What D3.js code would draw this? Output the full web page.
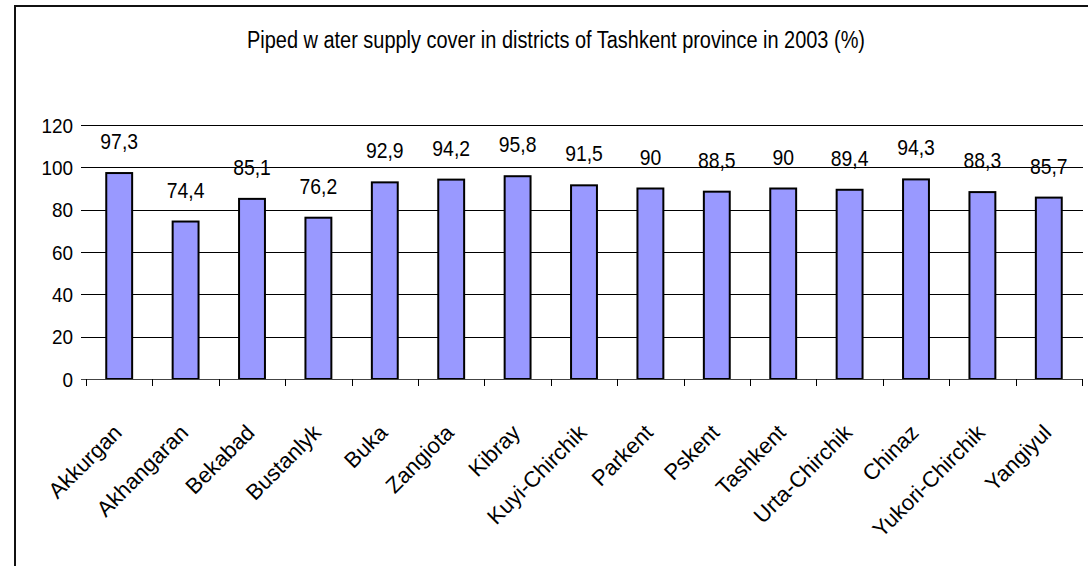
<!DOCTYPE html>
<html>
<head>
<meta charset="utf-8">
<script src="https://cdn.jsdelivr.net/npm/d3@7"></script>
<style>
  html, body { margin: 0; padding: 0; background: #fff; }
  svg { display: block; }
  text { font-family: "Liberation Sans", Arial, sans-serif; fill: #000; }
</style>
</head>
<body>
<svg id="chart" width="1088" height="566"></svg>
<script>
// District names and piped water supply coverage (%) for 2003
const categories = ["Akkurgan", "Akhangaran", "Bekabad", "Bustanlyk", "Buka", "Zangiota", "Kibray",
  "Kuyi-Chirchik", "Parkent", "Pskent", "Tashkent", "Urta-Chirchik", "Chinaz", "Yukori-Chirchik", "Yangiyul"];
const coverage = [97.3, 74.4, 85.1, 76.2, 92.9, 94.2, 95.8, 91.5, 90, 88.5, 90, 89.4, 94.3, 88.3, 85.7];
const yTicks = [0, 20, 40, 60, 80, 100, 120];
const titleText = "Piped w ater supply cover in districts of Tashkent province in 2003 (%)";

const svg = d3.select("#chart");

// narrow the glyphs horizontally to get the condensed look of the labels
function condense(sel, ratio) {
  sel.each(function () {
    const w = this.getComputedTextLength();
    d3.select(this).attr("textLength", w * ratio).attr("lengthAdjust", "spacingAndGlyphs");
  });
}

// chart area frame (left and top edges)
svg.append("path")
  .attr("d", "M15,566 V6 H1088")
  .attr("fill", "none").attr("stroke", "#111").attr("stroke-width", 2);

const x = d3.scaleBand().domain(categories).range([86, 1082]).paddingInner(0.61).paddingOuter(0.305);
const band = d3.scaleBand().domain(categories).range([86, 1082]);
const y = d3.scaleLinear().domain([0, 120]).range([379, 125]);

// horizontal gridlines with short ticks to the left
svg.append("g").selectAll("line").data(yTicks.filter(d => d > 0)).join("line")
  .attr("x1", 81).attr("x2", 1083)
  .attr("y1", d => Math.round(y(d)) + 0.5).attr("y2", d => Math.round(y(d)) + 0.5)
  .attr("stroke", "#000").attr("stroke-width", 1);

// value axis labels
svg.append("g").selectAll("text").data(yTicks).join("text")
  .attr("x", 73).attr("y", d => y(d) + 7.5)
  .attr("text-anchor", "end")
  .style("font-size", "21px")
  .text(d => d)
  .call(condense, 0.9);

// bars
svg.append("g").selectAll("rect").data(coverage).join("rect")
  .attr("x", (d, i) => x(categories[i]))
  .attr("width", x.bandwidth())
  .attr("y", d => y(d))
  .attr("height", d => y(0) - y(d))
  .attr("fill", "#9999FF")
  .attr("stroke", "#000").attr("stroke-width", 2);

// category axis line and tick marks at band boundaries
svg.append("line")
  .attr("x1", 81).attr("x2", 1083).attr("y1", Math.round(y(0)) + 0.5).attr("y2", Math.round(y(0)) + 0.5)
  .attr("stroke", "#444").attr("stroke-width", 1);
const boundaries = categories.map(c => band(c)).concat([band.range()[1]]);
svg.append("g").selectAll("line").data(boundaries).join("line")
  .attr("x1", d => Math.round(d) + 0.5).attr("x2", d => Math.round(d) + 0.5)
  .attr("y1", Math.round(y(0))).attr("y2", Math.round(y(0)) + 7)
  .attr("stroke", "#000").attr("stroke-width", 1);

// value labels above bars
svg.append("g").selectAll("text").data(coverage).join("text")
  .attr("x", (d, i) => x(categories[i]) + x.bandwidth() / 2)
  .attr("y", d => y(d) - 24)
  .attr("text-anchor", "middle")
  .style("font-size", "22px")
  .text(d => String(d).replace(".", ","))
  .call(condense, 0.88);

// rotated category labels
svg.append("g").selectAll("text").data(categories).join("text")
  .attr("transform", c => `translate(${x(c) + x.bandwidth() / 2 + 4},${y(0) + 55}) rotate(-45)`)
  .attr("text-anchor", "end")
  .style("font-size", "22px")
  .text(c => c);

// title
svg.append("text")
  .attr("x", 556).attr("y", 48)
  .attr("text-anchor", "middle")
  .style("font-size", "23px")
  .text(titleText)
  .attr("textLength", 618).attr("lengthAdjust", "spacingAndGlyphs");
</script>
</body>
</html>
